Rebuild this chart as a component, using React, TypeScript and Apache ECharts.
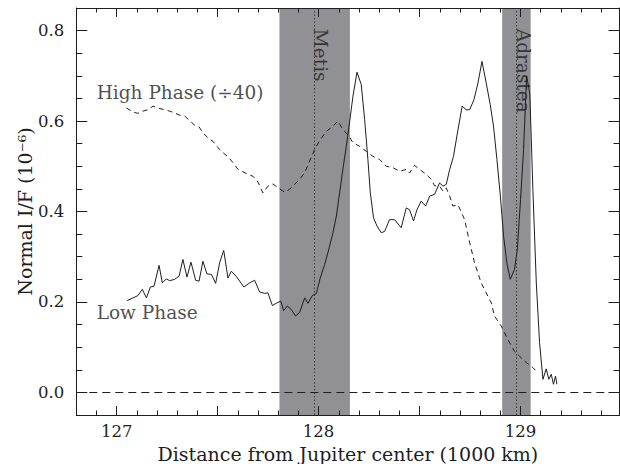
import React, { useEffect, useRef } from "react";
import * as echarts from "echarts";

// ---- data ----
const lowPhase: [number, number][] = [
  [127.052, 0.203], [127.081, 0.209], [127.105, 0.214], [127.127, 0.228], [127.147, 0.209],
  [127.167, 0.233], [127.185, 0.235], [127.21, 0.281], [127.226, 0.242], [127.246, 0.251],
  [127.262, 0.247], [127.287, 0.25], [127.309, 0.257], [127.328, 0.294], [127.348, 0.255],
  [127.368, 0.288], [127.391, 0.248], [127.408, 0.246], [127.427, 0.29], [127.447, 0.262],
  [127.469, 0.261], [127.49, 0.241], [127.51, 0.287], [127.53, 0.314], [127.551, 0.253],
  [127.568, 0.268], [127.593, 0.256], [127.63, 0.233], [127.658, 0.242], [127.683, 0.248],
  [127.708, 0.222], [127.733, 0.219], [127.749, 0.22], [127.771, 0.192], [127.79, 0.197],
  [127.812, 0.202], [127.827, 0.181], [127.845, 0.191], [127.865, 0.183], [127.886, 0.169],
  [127.906, 0.177], [127.931, 0.209], [127.947, 0.197], [127.969, 0.214], [127.989, 0.219],
  [128.008, 0.253], [128.03, 0.283], [128.046, 0.309], [128.071, 0.353], [128.088, 0.39],
  [128.104, 0.441], [128.12, 0.493], [128.137, 0.544], [128.153, 0.596], [128.17, 0.655],
  [128.19, 0.708], [128.211, 0.681], [128.228, 0.603], [128.244, 0.515], [128.256, 0.441],
  [128.272, 0.386], [128.289, 0.368], [128.31, 0.353], [128.327, 0.356], [128.351, 0.382],
  [128.376, 0.382], [128.409, 0.364], [128.434, 0.408], [128.45, 0.404], [128.47, 0.379],
  [128.487, 0.404], [128.508, 0.423], [128.53, 0.412], [128.55, 0.434], [128.574, 0.438],
  [128.599, 0.463], [128.616, 0.456], [128.632, 0.46], [128.649, 0.493], [128.668, 0.522],
  [128.69, 0.581], [128.711, 0.633], [128.731, 0.625], [128.748, 0.625], [128.769, 0.647],
  [128.789, 0.684], [128.809, 0.732], [128.83, 0.684], [128.85, 0.636], [128.866, 0.589],
  [128.883, 0.515], [128.9, 0.434], [128.916, 0.345], [128.932, 0.287], [128.949, 0.25],
  [128.97, 0.272], [128.984, 0.316], [129.0, 0.427], [129.015, 0.537], [129.03, 0.7],
  [129.046, 0.66], [129.061, 0.449], [129.078, 0.242], [129.094, 0.11], [129.111, 0.029],
  [129.127, 0.052], [129.14, 0.029], [129.152, 0.04], [129.163, 0.018], [129.173, 0.036],
  [129.18, 0.018],
];

const highPhase: [number, number][] = [
  [127.048, 0.629], [127.081, 0.62], [127.105, 0.617], [127.13, 0.622], [127.155, 0.625],
  [127.18, 0.633], [127.21, 0.628], [127.238, 0.625], [127.262, 0.622], [127.287, 0.618],
  [127.312, 0.613], [127.337, 0.611], [127.361, 0.601], [127.386, 0.591], [127.408, 0.587],
  [127.427, 0.574], [127.452, 0.563], [127.477, 0.555], [127.502, 0.541], [127.527, 0.53],
  [127.551, 0.521], [127.576, 0.508], [127.601, 0.493], [127.625, 0.488], [127.65, 0.482],
  [127.675, 0.478], [127.7, 0.465], [127.724, 0.441], [127.749, 0.456], [127.774, 0.461],
  [127.803, 0.451], [127.832, 0.443], [127.856, 0.449], [127.881, 0.46], [127.906, 0.471],
  [127.931, 0.486], [127.955, 0.511], [127.98, 0.537], [128.005, 0.557], [128.038, 0.577],
  [128.071, 0.589], [128.096, 0.6], [128.12, 0.581], [128.145, 0.57], [128.17, 0.552],
  [128.203, 0.544], [128.236, 0.533], [128.269, 0.522], [128.302, 0.515], [128.335, 0.5],
  [128.368, 0.497], [128.401, 0.489], [128.434, 0.493], [128.45, 0.485], [128.475, 0.502],
  [128.5, 0.493], [128.533, 0.482], [128.558, 0.471], [128.574, 0.457], [128.599, 0.456],
  [128.616, 0.445], [128.632, 0.452], [128.649, 0.434], [128.665, 0.412], [128.69, 0.415],
  [128.723, 0.382], [128.748, 0.331], [128.772, 0.287], [128.805, 0.242], [128.83, 0.22],
  [128.855, 0.198], [128.871, 0.169], [128.904, 0.147], [128.937, 0.117], [128.97, 0.091],
  [128.995, 0.08], [129.028, 0.066], [129.061, 0.055], [129.086, 0.043],
];

// moon shadow bands [start, end] and moon centre positions
const moonBands: [number, number][] = [
  [127.806, 128.155],
  [128.909, 129.05],
];
const moonNames = ["Metis", "Adrastea"];
const moonCenters = [127.978, 128.983];
const moonLabelPos: [number, number][] = [
  [128.01, 0.804],
  [129.014, 0.804],
];

const curveLabelNames = ["High Phase (\u00f740)", "Low Phase"];
const curveLabelPos: [number, number][] = [
  [126.901, 0.663],
  [126.901, 0.176],
];

// axes
const xMin = 126.8;
const xMax = 129.49;
const yMin = -0.05;
const yMax = 0.85;
const xLabelValues = [127, 128, 129];
const xMajorTicks = [127, 127.5, 128, 128.5, 129];
const xMinorTicks = [
  126.9, 127.1, 127.2, 127.3, 127.4, 127.6, 127.7, 127.8, 127.9, 128.1, 128.2, 128.3,
  128.4, 128.6, 128.7, 128.8, 128.9, 129.1, 129.2, 129.3, 129.4,
];
const yLabelValues = [0, 0.2, 0.4, 0.6, 0.8];
const yMinorTicks = [0.05, 0.1, 0.15, 0.25, 0.3, 0.35, 0.45, 0.5, 0.55, 0.65, 0.7, 0.75];

const FONT = "DejaVu Serif";
const INK = "#1e1e1e";

export default function App() {
  const ref = useRef<HTMLDivElement>(null);

  useEffect(() => {
    if (!ref.current) return;
    const chart = echarts.init(ref.current, null, { renderer: "svg" });

    const axisLineStyle = { color: INK, width: 1 };
    const hiddenLabel = { show: false };

    const xAxisBase = {
      type: "value" as const,
      min: xMin,
      max: xMax,
      splitLine: { show: false },
      z: 10,
    };
    const yAxisBase = {
      type: "value" as const,
      min: yMin,
      max: yMax,
      splitLine: { show: false },
      z: 10,
    };

    const xAxes = [
      {
        ...xAxisBase,
        position: "bottom",
        name: "Distance from Jupiter center (1000 km)",
        nameLocation: "middle",
        nameGap: 21,
        nameTextStyle: { fontFamily: FONT, fontSize: 19, color: INK },
        axisLine: { show: true, onZero: false, lineStyle: axisLineStyle },
        axisTick: { show: true, inside: true, length: 9, customValues: xMajorTicks, lineStyle: axisLineStyle },
        axisLabel: {
          show: true,
          customValues: xLabelValues,
          formatter: (v: number) => String(Math.round(v)),
          fontFamily: FONT,
          fontSize: 16.5,
          color: INK,
          margin: 8,
        },
      },
      {
        ...xAxisBase,
        position: "bottom",
        axisLine: { show: false, onZero: false },
        axisTick: { show: true, inside: true, length: 4.5, customValues: xMinorTicks, lineStyle: axisLineStyle },
        axisLabel: hiddenLabel,
      },
      {
        ...xAxisBase,
        position: "top",
        axisLine: { show: true, onZero: false, lineStyle: axisLineStyle },
        axisTick: { show: true, inside: true, length: 9, customValues: xMajorTicks, lineStyle: axisLineStyle },
        axisLabel: hiddenLabel,
      },
      {
        ...xAxisBase,
        position: "top",
        axisLine: { show: false, onZero: false },
        axisTick: { show: true, inside: true, length: 4.5, customValues: xMinorTicks, lineStyle: axisLineStyle },
        axisLabel: hiddenLabel,
      },
    ];

    const yAxes = [
      {
        ...yAxisBase,
        position: "left",
        name: "Normal I/F (10\u207b\u2076)",
        nameLocation: "middle",
        nameRotate: 90,
        nameGap: 42,
        nameMoveOverlap: false,
        nameTextStyle: { fontFamily: FONT, fontSize: 19, color: INK },
        axisLine: { show: true, onZero: false, lineStyle: axisLineStyle },
        axisTick: { show: true, inside: true, length: 11, customValues: yLabelValues, lineStyle: axisLineStyle },
        axisLabel: {
          show: true,
          customValues: yLabelValues,
          formatter: (v: number) => v.toFixed(1),
          fontFamily: FONT,
          fontSize: 16.5,
          color: INK,
          margin: 12,
        },
      },
      {
        ...yAxisBase,
        position: "left",
        axisLine: { show: false, onZero: false },
        axisTick: { show: true, inside: true, length: 6, customValues: yMinorTicks, lineStyle: axisLineStyle },
        axisLabel: hiddenLabel,
      },
      {
        ...yAxisBase,
        position: "right",
        axisLine: { show: true, onZero: false, lineStyle: axisLineStyle },
        axisTick: { show: true, inside: true, length: 11, customValues: yLabelValues, lineStyle: axisLineStyle },
        axisLabel: hiddenLabel,
      },
      {
        ...yAxisBase,
        position: "right",
        axisLine: { show: false, onZero: false },
        axisTick: { show: true, inside: true, length: 6, customValues: yMinorTicks, lineStyle: axisLineStyle },
        axisLabel: hiddenLabel,
      },
    ];

    chart.setOption({
      animation: false,
      backgroundColor: "#ffffff",
      grid: {
        left: 76.3,
        right: 0.5,
        top: 8,
        bottom: 49,
        containLabel: false,
        outerBoundsMode: "none",
      },
      xAxis: xAxes,
      yAxis: yAxes,
      series: [
        {
          name: "bands",
          type: "line",
          data: [],
          silent: true,
          markArea: {
            silent: true,
            itemStyle: { color: "#909095", opacity: 1 },
            label: { show: false },
            data: moonBands.map(([a, b]) => [{ xAxis: a }, { xAxis: b }]),
          },
          markLine: {
            silent: true,
            symbol: ["none", "none"],
            label: { show: false },
            data: [
              ...moonCenters.map((c) => ({
                xAxis: c,
                lineStyle: { type: [1.5, 2], color: "#3a3a3a", width: 1 },
              })),
              {
                yAxis: 0,
                lineStyle: { type: [8, 5], color: INK, width: 1 },
              },
            ],
          },
          z: 1,
        },
        {
          name: "High Phase",
          type: "line",
          data: highPhase,
          showSymbol: false,
          symbol: "none",
          lineStyle: { color: INK, width: 1, type: [5, 4] },
          silent: true,
          z: 3,
        },
        {
          name: "Low Phase",
          type: "line",
          data: lowPhase,
          showSymbol: false,
          symbol: "none",
          lineStyle: { color: INK, width: 1, type: "solid" },
          silent: true,
          z: 3,
        },
        {
          name: "moon labels",
          type: "scatter",
          symbolSize: 0,
          silent: true,
          data: moonNames.map((n, i) => ({ name: n, value: moonLabelPos[i] })),
          label: {
            show: true,
            formatter: "{b}",
            position: [0, 0],
            rotate: -90,
            align: "left",
            verticalAlign: "middle",
            fontFamily: FONT,
            fontSize: 18.5,
            color: INK,
          },
          z: 4,
        },
        {
          name: "curve labels",
          type: "scatter",
          symbolSize: 0,
          silent: true,
          data: curveLabelNames.map((n, i) => ({ name: n, value: curveLabelPos[i] })),
          label: {
            show: true,
            formatter: "{b}",
            position: [0, 0],
            align: "left",
            verticalAlign: "middle",
            fontFamily: FONT,
            fontSize: 18.5,
            color: INK,
          },
          z: 4,
        },
      ],
    });

    return () => chart.dispose();
  }, []);

  return (
    <div
      ref={ref}
      style={{ position: "fixed", left: 0, top: 0, width: 620, height: 464 }}
    />
  );
}
